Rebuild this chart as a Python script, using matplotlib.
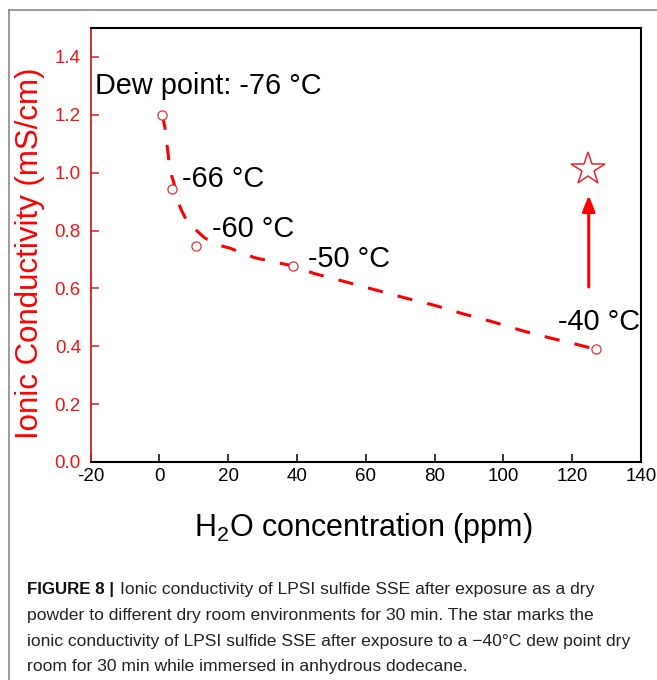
import matplotlib
matplotlib.use("Agg")
import matplotlib.pyplot as plt
from matplotlib.lines import Line2D

plt.rcParams['font.family'] = ['Liberation Sans', 'DejaVu Sans']
plt.rcParams['mathtext.fontset'] = 'custom'
plt.rcParams['mathtext.rm'] = 'Liberation Sans'
plt.rcParams['mathtext.it'] = 'Liberation Sans:italic'

# Dry-powder exposure results
h2o_ppm = [0.8, 3.5, 10.5, 38.7, 127.0]
conductivity = [1.20, 0.945, 0.747, 0.678, 0.389]
dew_labels = ["Dew point: -76 °C", "-66 °C", "-60 °C", "-50 °C", "-40 °C"]

# Trend line through the dry-powder results
trend_ppm = [0.8, 1.2, 1.6, 2.2, 2.8, 3.5, 4.2, 5.4, 6.4, 7.4, 8.5, 9.7, 11.5,
             13.2, 17.0, 20.5, 27.7, 33.0, 38.7, 45.1, 54.0, 62.4, 71.1, 79.8,
             88.0, 96.7, 105.4, 113.8, 122.8, 127.0]
trend_cond = [1.20, 1.178, 1.154, 1.095, 1.036, 0.991, 0.964, 0.898, 0.870,
              0.846, 0.828, 0.812, 0.792, 0.774, 0.750, 0.739, 0.706, 0.692,
              0.678, 0.651, 0.623, 0.596, 0.568, 0.542, 0.513, 0.485, 0.454,
              0.428, 0.402, 0.389]

# Sample exposed at -40 °C while immersed in dodecane
star_ppm = 124.5
star_cond = 1.014
arrow_ppm = 124.8
arrow_from = 0.605
arrow_to = 0.922

x_ticks = [-20, 0, 20, 40, 60, 80, 100, 120, 140]
y_ticks = [0.0, 0.2, 0.4, 0.6, 0.8, 1.0, 1.2, 1.4]

W, H = 657, 680
fig = plt.figure(figsize=(W / 100, H / 100), dpi=100)

# page frame
fig.add_artist(Line2D([9.3 / W, 9.3 / W], [0, 1 - 10 / H], color='#808080', lw=1.1))
fig.add_artist(Line2D([9.3 / W, 1], [1 - 10 / H, 1 - 10 / H], color='#808080', lw=1.1))

left, right, bottom, top = 90.7, 641.0, 462.0, 28.0
ax = fig.add_axes([left / W, 1 - bottom / H, (right - left) / W, (bottom - top) / H])

red = '#ff0000'
axis_red = '#d81c1c'

ax.plot(trend_ppm, trend_cond, color=red, lw=2.2, dashes=(5, 5), zorder=2)
ax.plot(h2o_ppm, conductivity, ls='none', marker='o', ms=6.6, mfc='white',
        mec='#d8343a', mew=0.9, zorder=3)
ax.plot([star_ppm], [star_cond], ls='none', marker='*', ms=25, mfc='white',
        mec='#e8262a', mew=1.1, zorder=3)
ax.annotate('', xy=(arrow_ppm, arrow_to), xytext=(arrow_ppm, arrow_from),
            arrowprops=dict(arrowstyle='-|>,head_length=0.95,head_width=0.38',
                            color=red, lw=2.2, shrinkA=0, shrinkB=0,
                            mutation_scale=10))

# label offsets in pixels (dx, dy up)
offsets_px = [(-67.3, 20.7), (10.3, 1.6), (16.0, 9.0), (15.6, -1.0), (-38.7, 19.3)]
for x, y, lab, (dx, dy) in zip(h2o_ppm, conductivity, dew_labels, offsets_px):
    ax.annotate(lab, xy=(x, y), xytext=(dx * 0.72, dy * 0.72),
                textcoords='offset points', ha='left', va='baseline',
                fontsize=20.8, color='black')

ax.set_xlim(-20, 140)
ax.set_ylim(0, 1.5)
ax.set_xticks(x_ticks)
ax.set_xticklabels([str(t) for t in x_ticks])
ax.set_yticks(y_ticks)
ax.set_yticklabels([f"{t:.1f}" for t in y_ticks])

for s in ['top', 'right', 'bottom']:
    ax.spines[s].set_color('black')
    ax.spines[s].set_linewidth(1.5)
ax.spines['left'].set_color(axis_red)
ax.spines['left'].set_linewidth(1.3)

ax.tick_params(axis='x', direction='in', length=5.5, width=1.1, colors='black',
               labelsize=13.5, pad=4, top=False)
ax.tick_params(axis='y', direction='in', length=6, width=1.1, color=axis_red,
               labelcolor='#f01414', labelsize=13.5, pad=7, right=False)

fig.text(30.5 / W, 1 - 253.5 / H, 'Ionic Conductivity (mS/cm)', rotation=90,
         ha='center', va='center', fontsize=22.5, color=red)
fig.text(363.5 / W, 1 - 536 / H, 'H$_2$O concentration (ppm)', ha='center',
         va='baseline', fontsize=22, color='black')

# caption
cap_size = 12.6
base = [594.3, 620.0, 645.8, 671.5]
fig.text(27.3 / W, 1 - base[0] / H, 'FIGURE 8 |', fontsize=12.2,
         fontweight='bold', va='baseline', ha='left', color='#111111')
fig.text(120 / W, 1 - base[0] / H,
         'Ionic conductivity of LPSI sulfide SSE after exposure as a dry',
         fontsize=cap_size, va='baseline', ha='left', color='#222222')
lines = ['powder to different dry room environments for 30 min. The star marks the',
         'ionic conductivity of LPSI sulfide SSE after exposure to a \u221240\u00b0C dew point dry',
         'room for 30 min while immersed in anhydrous dodecane.']
for b, line in zip(base[1:], lines):
    fig.text(27.3 / W, 1 - b / H, line, fontsize=cap_size, va='baseline',
             ha='left', color='#222222')

fig.savefig('out.png', dpi=100)
